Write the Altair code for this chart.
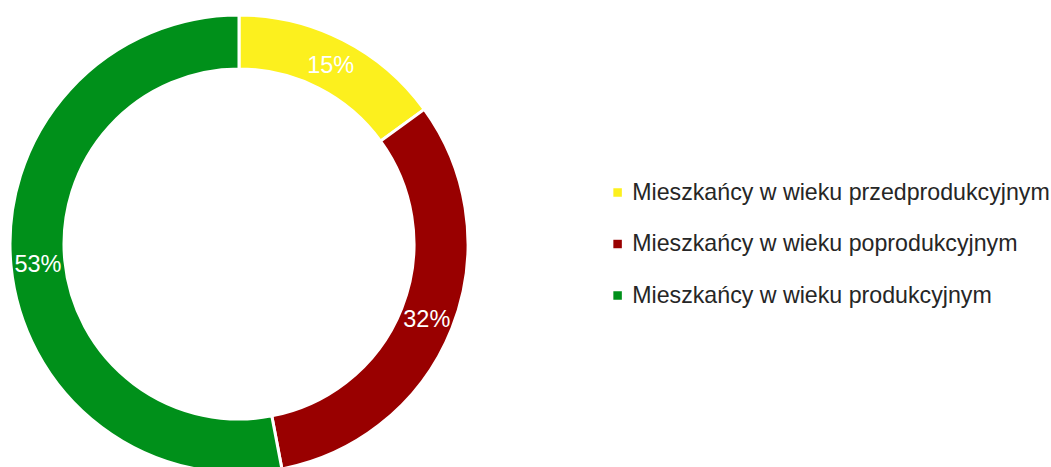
import altair as alt
import pandas as pd

categories = ["Mieszkańcy w wieku przedprodukcyjnym",
              "Mieszkańcy w wieku poprodukcyjnym",
              "Mieszkańcy w wieku produkcyjnym"]
values = [15, 32, 53]
labels = ["15%", "32%", "53%"]
colors = ["#FCF01E", "#990000", "#00901A"]

df = pd.DataFrame({"cat": categories, "val": values, "lab": labels, "ord": [0, 1, 2]})

CX, CY = 239, 244

base = alt.Chart(df).encode(
    theta=alt.Theta("val:Q", stack=True),
    order=alt.Order("ord:Q"),
)

arcs = base.mark_arc(radius=229, radius2=175, stroke="white", strokeWidth=3).encode(
    x=alt.value(CX), y=alt.value(CY),
    color=alt.Color("cat:N", sort=categories,
                    scale=alt.Scale(domain=categories, range=colors),
                    legend=alt.Legend(title=None, orient="none", legendX=606, legendY=181,
                                      symbolType="square", symbolSize=100,
                                      labelFontSize=23.2, labelFont="Liberation Sans",
                                      labelColor="#262626", rowPadding=27.5, labelOffset=3,
                                      labelLimit=600)),
)

texts = base.mark_text(radius=202, fontSize=23.5, font="Liberation Sans", color="white",
                       dy=2).encode(
    x=alt.value(CX), y=alt.value(CY),
    text="lab:N",
)

chart = alt.layer(arcs, texts).properties(
    width=1051, height=467, padding=0, autosize=alt.AutoSizeParams(type="none")
).configure_view(stroke=None)

chart.save("out.html", embed_options={"renderer": "svg", "actions": False})
